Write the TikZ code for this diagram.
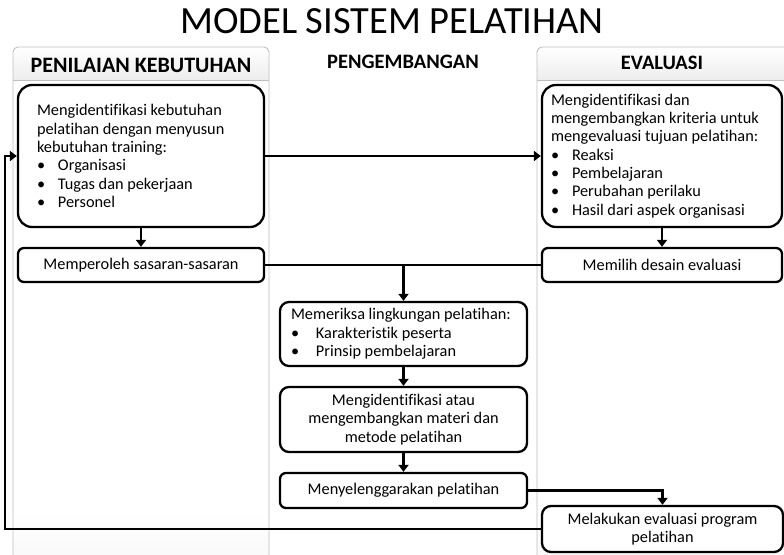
\documentclass[tikz,border=0pt]{standalone}
\usepackage{fontspec}
\setmainfont{Carlito}[Ligatures={NoCommon}]
\usetikzlibrary{arrows.meta}

\pgfdeclareverticalshading{panelshade}{100bp}{color(0bp)=(black!14); color(30bp)=(white); color(100bp)=(white)}

\newcommand{\butir}[2][21pt]{\makebox[#1][l]{\textbullet}#2}

\tikzset{
  box/.style={draw, line width=2.3pt, rounded corners=14pt, fill=white, inner xsep=6pt, inner ysep=2pt,
    font=\fontsize{16.3}{18.3}\selectfont},
  smallbox/.style={box, rounded corners=6pt},
  flow/.style={line width=2.8pt, -{Triangle[length=7pt,width=10pt]}},
  link/.style={line width=2.8pt},
  panelline/.style={draw=black!25, line width=0.9pt},
  head/.style={font=\bfseries\fontsize{20.5}{22}\selectfont}
}

\begin{document}
\begin{tikzpicture}[x=1pt,y=-1pt]
  \useasboundingbox (0,0) rectangle (784,554);

  \foreach \xa/\xb in {13/269, 537/790} {
    \begin{scope}
      \clip[rounded corners=5pt] (\xa,47) rectangle (\xb,560);
      \shade[shading=panelshade] (\xa,47) rectangle (\xb,560);
      \shade[top color=white, bottom color=black!7] (\xa,47) rectangle (\xb,80);
    \end{scope}
    \draw[panelline] (\xa,80) -- (\xb,80);
    \draw[panelline, rounded corners=5pt] (\xa,560) |- (\xb,47) -- (\xb,560);
  }

  \node[font=\fontsize{38.5}{40}\selectfont] (judul) at (392,21) {MODEL SISTEM PELATIHAN};
  \node[head, font=\bfseries\fontsize{22}{24}\selectfont] (kebutuhan) at (141,65) {PENILAIAN KEBUTUHAN};
  \node[head] (pengembangan) at (403,62) {PENGEMBANGAN};
  \node[head] (evaluasi) at (662,63) {EVALUASI};

  \node[box, text width=208pt, inner xsep=19pt, minimum height=142pt, align=flush left] (identifikasi) at (141,156)
    {Mengidentifikasi kebutuhan\\pelatihan dengan menyusun\\kebutuhan training:\\
     \butir{Organisasi}\\\butir{Tugas dan pekerjaan}\\\butir{Personel}};
  \node[smallbox, minimum width=246pt, minimum height=34pt] (sasaran) at (141,265) {Memperoleh sasaran-sasaran};

  \node[box, text width=222pt, inner xsep=9pt, minimum height=142pt, align=flush left] (kriteria) at (662,156)
    {Mengidentifikasi dan\\mengembangkan kriteria untuk\\mengevaluasi tujuan pelatihan:\\
     \butir{Reaksi}\\\butir{Pembelajaran}\\\butir{Perubahan perilaku}\\\butir{Hasil dari aspek organisasi}};
  \node[smallbox, minimum width=240pt, minimum height=34pt] (desain) at (662,265) {Memilih desain evaluasi};

  \node[box, rounded corners=9pt, text width=225pt, inner xsep=11pt, minimum height=64pt, align=flush left] (lingkungan) at (403.5,334)
    {Memeriksa lingkungan pelatihan:\\\butir[25pt]{Karakteristik peserta}\\\butir[25pt]{Prinsip pembelajaran}};
  \node[box, rounded corners=9pt, minimum width=247pt, minimum height=65pt, align=flush center] (materi) at (403.5,419.5)
    {Mengidentifikasi atau\\mengembangkan materi dan\\metode pelatihan};
  \node[smallbox, minimum width=247pt, minimum height=35pt] (selenggara) at (403.5,490.5) {Menyelenggarakan pelatihan};
  \node[smallbox, rounded corners=9pt, minimum width=241pt, minimum height=46pt, align=flush center] (program) at (662.5,529)
    {Melakukan evaluasi program\\pelatihan};

  \coordinate (cabang) at (403.5,265);
  \coordinate (balik) at (5,529);

  \draw[flow] (identifikasi) -- (sasaran);
  \draw[flow] (kriteria) -- (desain);
  \draw[flow] (identifikasi) -- (kriteria);
  \draw[link] (sasaran) -- (desain);
  \draw[flow] (cabang) -- (lingkungan);
  \draw[flow] (lingkungan) -- (materi);
  \draw[flow] (materi) -- (selenggara);
  \draw[flow] (selenggara) -| (program);
  \draw[flow] (program) -- (balik) |- (identifikasi);
\end{tikzpicture}
\end{document}
